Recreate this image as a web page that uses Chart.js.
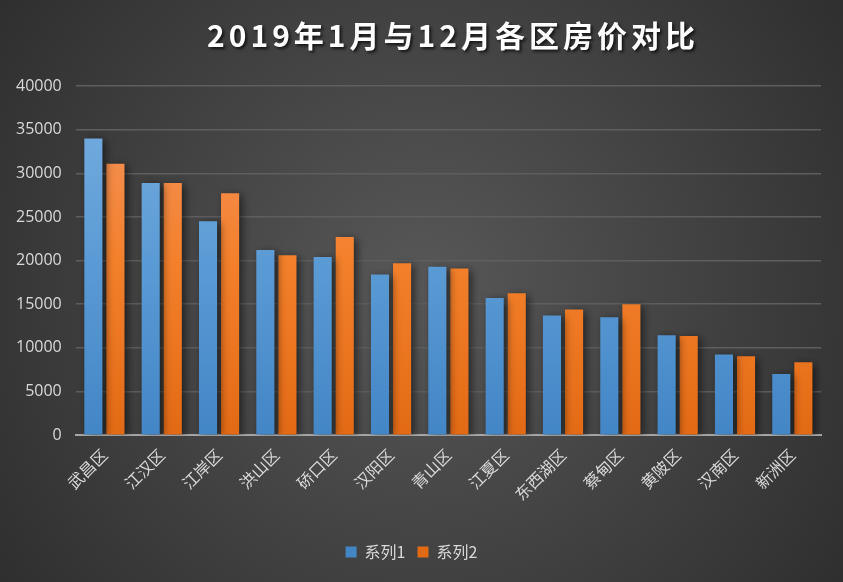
<!DOCTYPE html>
<html>
<head>
<meta charset="utf-8">
<script src="https://cdn.jsdelivr.net/npm/chart.js@4.4.1/dist/chart.umd.min.js"></script>
<style>
html,body{margin:0;padding:0;background:#3a3a3a;}
#wrap{width:843px;height:582px;position:relative;}
</style>
</head>
<body>
<div id="wrap"><canvas id="c" width="843" height="582"></canvas></div>
<script>
const categories = ['武昌区','江汉区','江岸区','洪山区','硚口区','汉阳区','青山区','江夏区','东西湖区','蔡甸区','黄陂区','汉南区','新洲区'];
const series1 = [34000, 28900, 24500, 21200, 20400, 18400, 19300, 15700, 13700, 13500, 11450, 9250, 7000];
const series2 = [31100, 28900, 27700, 20600, 22700, 19700, 19100, 16250, 14400, 15000, 11350, 9050, 8350];
const seriesNames = ['系列1','系列2'];
const titleText = '2019年1月与12月各区房价对比';

const bgPlugin = {
  id:'bg',
  beforeDraw(chart){
    const {ctx,width,height} = chart;
    ctx.save();
    const g = ctx.createRadialGradient(width/2,height/2,0,width/2,height/2,Math.max(width,height)*0.62);
    g.addColorStop(0,'#585858');
    g.addColorStop(1,'#2e2e2e');
    ctx.fillStyle = g;
    ctx.fillRect(0,0,width,height);
    ctx.restore();
  },
  afterDraw(chart){
    const ctx = chart.ctx;
    ctx.save();
    ctx.font = 'bold 30px "Noto Sans CJK SC", "Noto Sans", sans-serif';
    ctx.textBaseline = 'middle';
    ctx.textAlign = 'left';
    const spacing = 4;
    const chars = Array.from(titleText);
    const widths = chars.map(ch => ctx.measureText(ch).width);
    const total = widths.reduce((a,b)=>a+b,0) + spacing*(chars.length-1);
    let x = 451 - total/2;
    ctx.shadowColor = 'rgba(0,0,0,0.7)';
    ctx.shadowBlur = 3;
    ctx.shadowOffsetX = 2;
    ctx.shadowOffsetY = 2;
    ctx.fillStyle = '#ffffff';
    chars.forEach((ch,i)=>{ ctx.fillText(ch, x, 36); x += widths[i] + spacing; });
    ctx.restore();
  }
};
const shadowPlugin = {
  id:'shadow',
  beforeDatasetDraw(chart){
    const ctx = chart.ctx;
    ctx.save();
    ctx.shadowColor = 'rgba(0,0,0,0.55)';
    ctx.shadowBlur = 8;
    ctx.shadowOffsetX = 3;
    ctx.shadowOffsetY = 2;
  },
  afterDatasetDraw(chart){
    chart.ctx.restore();
  }
};
function grad(chart, top, mid, bot){
  const a = chart.chartArea;
  if(!a) return mid;
  const g = chart.ctx.createLinearGradient(0,a.top,0,a.bottom);
  g.addColorStop(0,top);
  g.addColorStop(0.5,mid);
  g.addColorStop(1,bot);
  return g;
}
new Chart(document.getElementById('c'),{
  type:'bar',
  data:{
    labels:categories,
    datasets:[
      {label:seriesNames[0],data:series1,
       backgroundColor:(c)=>grad(c.chart,'#78aee0','#5b9bd5','#4386c6'),
       borderWidth:0,categoryPercentage:0.77,barPercentage:0.82},
      {label:seriesNames[1],data:series2,
       backgroundColor:(c)=>grad(c.chart,'#f39663','#f4802b','#e36a15'),
       borderWidth:0,categoryPercentage:0.77,barPercentage:0.82}
    ]
  },
  options:{
    responsive:false,
    animation:false,
    devicePixelRatio:1,
    layout:{padding:{left:2,right:22,top:86,bottom:12}},
    plugins:{
      title:{display:false},
      legend:{position:'bottom',
        labels:{color:'#d9d9d9',boxWidth:11,boxHeight:11,padding:12,
          font:{family:'"Noto Sans CJK SC", sans-serif',size:16}}},
      tooltip:{enabled:false}
    },
    scales:{
      x:{
        grid:{display:false,drawTicks:false},
        border:{display:true,color:'#a6a6a6',width:2},
        ticks:{color:'#d9d9d9',maxRotation:45,minRotation:45,padding:10,
          font:{family:'"Noto Sans CJK SC", sans-serif',size:16}},
        afterFit(scale){ scale.height += 18; }
      },
      y:{
        min:0,max:40000,
        ticks:{stepSize:5000,color:'#d9d9d9',padding:14,
          callback:(v)=>String(v),
          font:{family:'"Open Sans", "Noto Sans", sans-serif',size:16}},
        grid:{color:'#5e5e5e',lineWidth:1.5,drawTicks:false},
        border:{display:false}
      }
    }
  },
  plugins:[bgPlugin,shadowPlugin]
});
</script>
</body>
</html>
